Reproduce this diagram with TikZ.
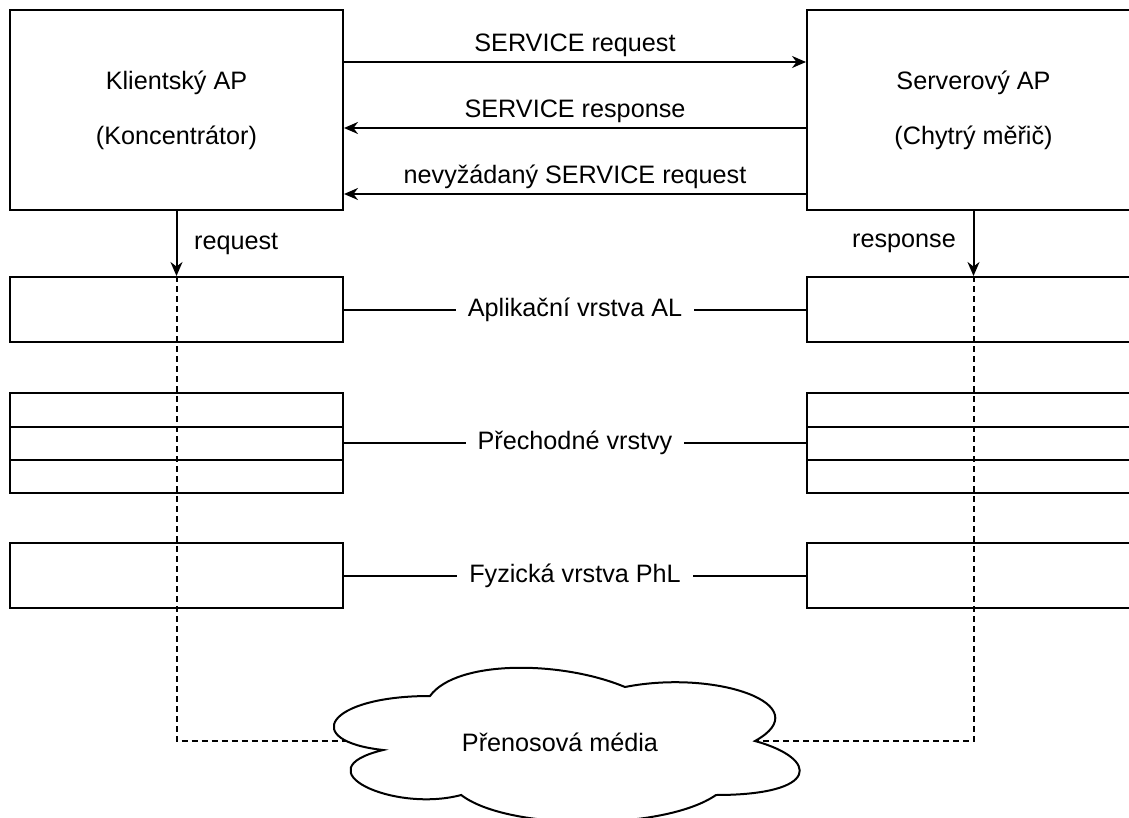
\documentclass[tikz,border=0pt]{standalone}
\usepackage{fontspec}
\setmainfont{Liberation Sans}
\usetikzlibrary{arrows.meta}
\tikzset{
  diagram/.style={x=0.5pt,y=-0.5pt,font=\fontsize{12.6}{14.5}\selectfont,line width=1pt},
  apbox/.style={draw,minimum width=166.5pt,minimum height=100pt,align=center,inner sep=0pt},
  layerbox/.style={draw,minimum width=166.5pt,minimum height=32.5pt,inner sep=0pt},
  sublayer/.style={draw,minimum width=166.5pt,minimum height=16.67pt,inner sep=0pt},
  msg/.style={-{Stealth[length=7pt,width=6pt]}},
  msgtag/.style={midway,above,inner sep=2pt},
  layertag/.style={midway,fill=white,inner xsep=6pt,inner ysep=1pt},
  medialink/.style={dash pattern=on 3pt off 2pt},
}

\begin{document}
\begin{tikzpicture}[diagram]
  \useasboundingbox (0,0) rectangle (1129,818);

  % application processes
  \node[apbox] (client) at (176.5,110) {Klientský AP\\[13pt](Koncentrátor)};
  \node[apbox] (server) at (973.5,110) {Serverový AP\\[13pt](Chytrý měřič)};

  \draw[msg] ([yshift=24pt]client.east) -- node[msgtag] {SERVICE request} ([yshift=24pt]server.west);
  \draw[msg] ([yshift=-9pt]server.west) -- node[msgtag] {SERVICE response} ([yshift=-9pt]client.east);
  \draw[msg] ([yshift=-42pt]server.west) -- node[msgtag] {nevyžádaný SERVICE request} ([yshift=-42pt]client.east);

  % layers
  \node[layerbox] (clientAL) at (176.5,309.5) {};
  \node[layerbox] (serverAL) at (973.5,309.5) {};
  \node[sublayer] (clientTL1) at (176.5,410) {};
  \node[sublayer] (clientTL2) at (176.5,443.3) {};
  \node[sublayer] (clientTL3) at (176.5,476.7) {};
  \node[sublayer] (serverTL1) at (973.5,410) {};
  \node[sublayer] (serverTL2) at (973.5,443.3) {};
  \node[sublayer] (serverTL3) at (973.5,476.7) {};
  \node[layerbox] (clientPhL) at (176.5,575.5) {};
  \node[layerbox] (serverPhL) at (973.5,575.5) {};

  \draw (clientAL.east) -- node[layertag] {Aplikační vrstva AL} (serverAL.west);
  \draw (clientTL2.east) -- node[layertag] {Přechodné vrstvy} (serverTL2.west);
  \draw (clientPhL.east) -- node[layertag] {Fyzická vrstva PhL} (serverPhL.west);

  % transmission media
  \begin{scope}[shift={(300,651)},xscale=520,yscale=180]
    \draw[fill=white] (0.25,0.25) .. controls (0.05,0.25) and (0,0.5) .. (0.16,0.55)
      .. controls (0,0.66) and (0.18,0.9) .. (0.31,0.8)
      .. controls (0.4,1) and (0.7,1) .. (0.8,0.8)
      .. controls (1,0.8) and (1,0.6) .. (0.875,0.5)
      .. controls (1,0.3) and (0.8,0.1) .. (0.625,0.2)
      .. controls (0.5,0.05) and (0.3,0.05) .. (0.25,0.25) -- cycle;
    \coordinate (mediaW) at (0.089,0.5);
    \coordinate (mediaE) at (0.875,0.5);
    \node (media) at (0.5,0.51) {Přenosová média};
  \end{scope}

  \draw[msg] (client.south) -- node[midway,right,xshift=5pt] {request} (clientAL.north);
  \draw[msg] (server.south) -- node[midway,left,xshift=-5pt] {response} (serverAL.north);
  \draw[medialink] (clientAL.north) |- (mediaW);
  \draw[medialink] (serverAL.north) |- (mediaE);
\end{tikzpicture}
\end{document}
